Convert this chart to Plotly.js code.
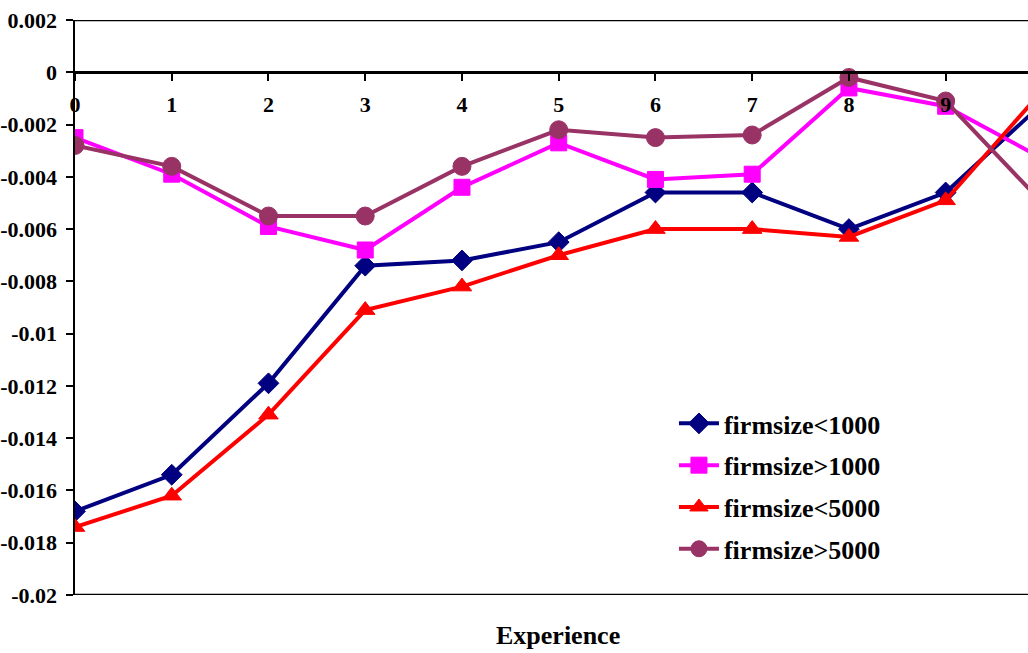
<!DOCTYPE html>
<html>
<head>
<meta charset="utf-8">
<script src="https://cdn.plot.ly/plotly-3.0.1.min.js"></script>
<style>
  html, body { margin: 0; padding: 0; background: #ffffff; }
  #chart { width: 1028px; height: 653px; }
</style>
</head>
<body>
<div id="chart"></div>
<script>
// Years of experience
var experience = [0, 1, 2, 3, 4, 5, 6, 7, 8, 9, 10];

// Estimated effects by firm size
var firmLt1000 = [-0.0168, -0.0154, -0.0119, -0.0074, -0.0072, -0.0065, -0.0046, -0.0046, -0.0060, -0.0046, -0.0012];
var firmGt1000 = [-0.0025, -0.0039, -0.0059, -0.0068, -0.0044, -0.0027, -0.0041, -0.0039, -0.0006, -0.0013, -0.0033];
var firmLt5000 = [-0.0174, -0.0162, -0.0131, -0.0091, -0.0082, -0.0070, -0.0060, -0.0060, -0.0063, -0.0049, -0.0007];
var firmGt5000 = [-0.0028, -0.0036, -0.0055, -0.0055, -0.0036, -0.0022, -0.0025, -0.0024, -0.0002, -0.0011, -0.0050];

var seriesNames = ['firmsize<1000', 'firmsize>1000', 'firmsize<5000', 'firmsize>5000'];

// Axis ticks
var xTickVals = [0, 1, 2, 3, 4, 5, 6, 7, 8, 9];
var yTickVals = [0.002, 0, -0.002, -0.004, -0.006, -0.008, -0.01, -0.012, -0.014, -0.016, -0.018, -0.02];
var yTickText = ['0.002', '0', '-0.002', '-0.004', '-0.006', '-0.008', '-0.01', '-0.012', '-0.014', '-0.016', '-0.018', '-0.02'];

var FONT = 'Liberation Serif';
var tickFont = { family: FONT, size: 22, color: '#000000', weight: 'bold' };

function series(y, name, color, symbol, size, group) {
  return {
    x: experience,
    y: y,
    name: name,
    type: 'scatter',
    mode: 'lines+markers',
    legendgroup: group,
    line: { color: color, width: 4 },
    marker: { color: color, symbol: symbol, size: size, line: { color: color, width: 1 } },
    cliponaxis: true
  };
}

var traces = [
  series(firmLt1000, seriesNames[0], '#000080', 'diamond', 16, 'a'),
  series(firmGt1000, seriesNames[1], '#FF00FF', 'square', 16, 'b'),
  series(firmLt5000, seriesNames[2], '#FF0000', 'triangle-up', 17, 'c'),
  series(firmGt5000, seriesNames[3], '#993366', 'circle', 18, 'd')
];

var layout = {
  width: 1028,
  height: 653,
  margin: { l: 75, r: 0, t: 20, b: 58, pad: 0 },
  paper_bgcolor: '#ffffff',
  plot_bgcolor: '#ffffff',
  font: { family: FONT, color: '#000000', size: 22 },
  showlegend: true,
  legend: {
    x: 0.6285, y: 0.3392, xanchor: 'left', yanchor: 'top',
    bgcolor: 'rgba(0,0,0,0)',
    font: { family: FONT, size: 26, color: '#000000', weight: 'bold' },
    traceorder: 'grouped',
    tracegroupgap: 5,
    itemwidth: 40
  },
  xaxis: {
    type: 'linear',
    range: [0, 9.851],
    anchor: 'free',
    position: 0.90909,
    tickmode: 'array',
    tickvals: xTickVals,
    ticktext: xTickVals.map(String),
    ticks: 'outside',
    ticklen: 7,
    tickwidth: 2,
    tickcolor: '#000000',
    ticklabelstandoff: 5,
    showline: true,
    linecolor: '#000000',
    linewidth: 2.5,
    showgrid: false,
    zeroline: false,
    tickfont: tickFont
  },
  yaxis: {
    range: [-0.02, 0.002],
    tickmode: 'array',
    tickvals: yTickVals,
    ticktext: yTickText,
    ticks: 'outside',
    ticklen: 7,
    tickwidth: 2,
    tickcolor: '#000000',
    ticklabelstandoff: 4,
    showline: true,
    linecolor: '#000000',
    linewidth: 2.5,
    showgrid: false,
    zeroline: false,
    tickfont: tickFont
  },
  shapes: [
    { type: 'line', xref: 'paper', yref: 'y', x0: 0, x1: 1, y0: 0.002, y1: 0.002,
      line: { color: '#000000', width: 2.5 } },
    { type: 'line', xref: 'paper', yref: 'y', x0: 0, x1: 1, y0: -0.02, y1: -0.02,
      line: { color: '#000000', width: 2.5 } }
  ],
  annotations: [
    { text: 'Experience', xref: 'paper', yref: 'paper', x: 0.507, y: -0.071,
      xanchor: 'center', yanchor: 'middle', showarrow: false,
      font: { family: FONT, size: 26, color: '#000000', weight: 'bold' } }
  ]
};

Plotly.newPlot('chart', traces, layout, { displayModeBar: false, staticPlot: true });
</script>
</body>
</html>
